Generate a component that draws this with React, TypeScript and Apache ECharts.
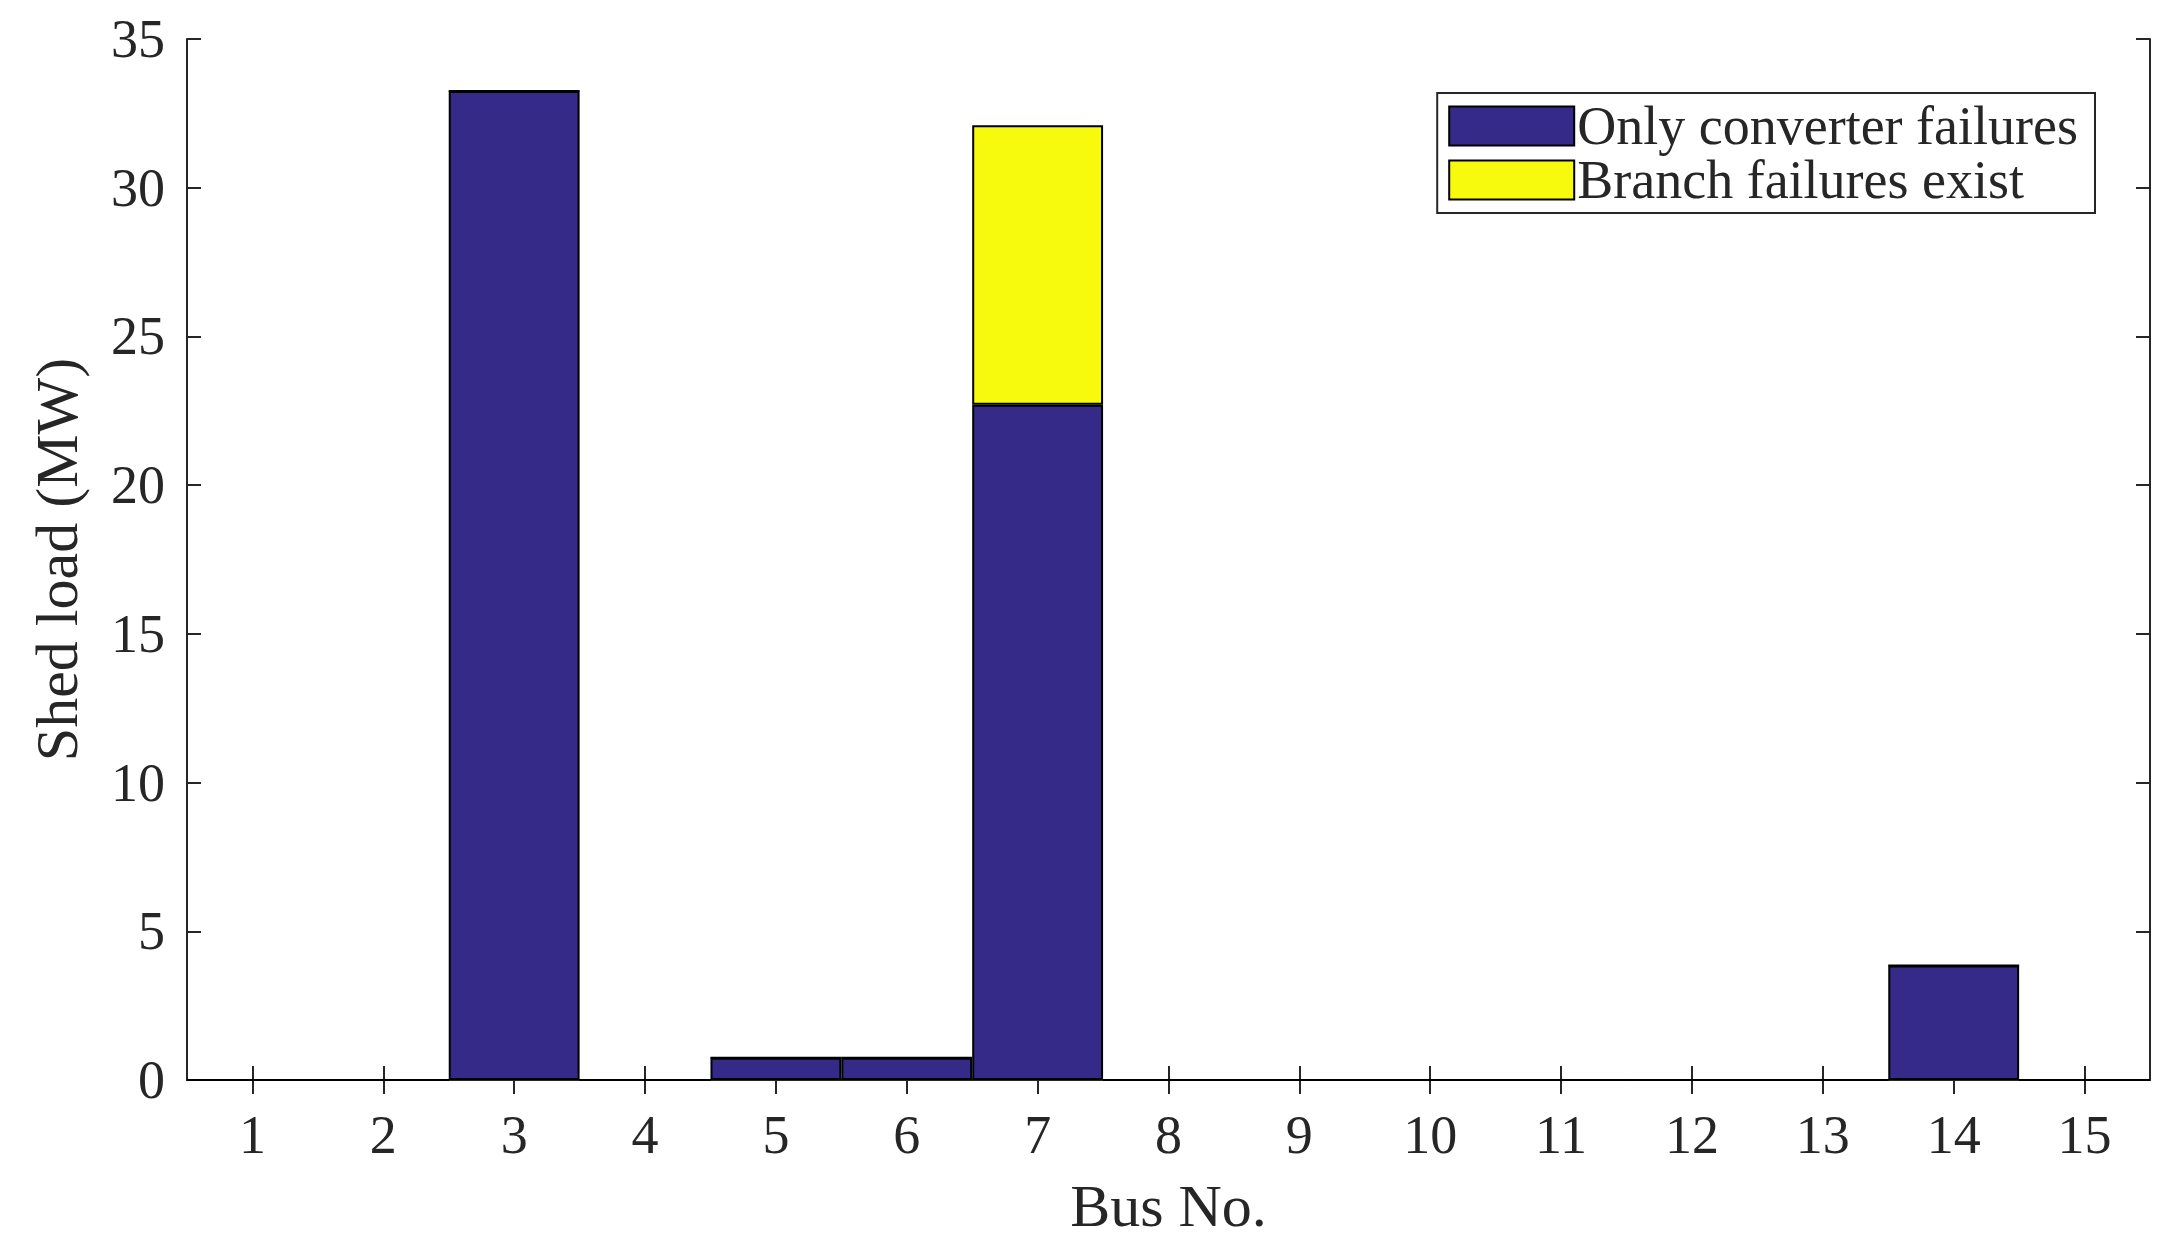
import React, { useEffect, useRef } from "react";
import * as echarts from "echarts";

const buses = ["1", "2", "3", "4", "5", "6", "7", "8", "9", "10", "11", "12", "13", "14", "15"];
const onlyConverter = [0, 0, 33.25, 0, 0.75, 0.75, 22.7, 0, 0, 0, 0, 0, 0, 3.85, 0];
const branchExist = [0, 0, 0, 0, 0, 0, 9.4, 0, 0, 0, 0, 0, 0, 0, 0];
const seriesNames = ["Only converter failures", "Branch failures exist"];
const yMin = 0;
const yMax = 35;
const yInterval = 5;

const FONT = "Liberation Serif";
const TXT = "#262626";

export default function App() {
  const ref = useRef<HTMLDivElement>(null);
  useEffect(() => {
    if (!ref.current) return;
    const chart = echarts.init(ref.current, undefined, { renderer: "svg" });
    const axisLine = { show: true, lineStyle: { color: TXT, width: 2 } };
    const tick = { show: true, inside: true, length: 14, lineStyle: { color: TXT, width: 2 } };
    chart.setOption({
      animation: false,
      backgroundColor: "#ffffff",
      grid: { left: 187, right: 30, top: 39, bottom: 177, containLabel: false },
      legend: {
        orient: "vertical",
        right: 85,
        top: 93,
        backgroundColor: "#ffffff",
        borderColor: TXT,
        borderWidth: 2,
        padding: [6, 17, 6, 11],
        itemGap: 0,
        itemWidth: 125,
        itemHeight: 39,
        itemStyle: { borderColor: "#000", borderWidth: 2 },
        icon: "rect",
        textStyle: { fontFamily: FONT, fontSize: 54, color: TXT, lineHeight: 52, padding: [0, 0, 0, -2] },
        data: seriesNames,
      },
      xAxis: [
        {
          type: "category",
          data: buses,
          position: "bottom",
          boundaryGap: true,
          axisLine,
          axisTick: { ...tick, alignWithLabel: true },
          axisLabel: { fontFamily: FONT, fontSize: 54, color: TXT, margin: 28 },
          name: "Bus No.",
          nameLocation: "middle",
          nameGap: 96,
          nameTextStyle: { fontFamily: FONT, fontSize: 60, color: TXT },
          splitLine: { show: false },
        },
        {
          type: "category",
          data: buses,
          position: "top",
          boundaryGap: true,
          axisLine,
          axisTick: { ...tick, alignWithLabel: true },
          axisLabel: { show: false },
          splitLine: { show: false },
        },
      ],
      yAxis: [
        {
          type: "value",
          min: yMin,
          max: yMax,
          interval: yInterval,
          position: "left",
          axisLine,
          axisTick: tick,
          axisLabel: { fontFamily: FONT, fontSize: 54, color: TXT, margin: 22 },
          splitLine: { show: false },
          name: "Shed load (MW)",
          nameLocation: "middle",
          nameGap: 100,
          nameTextStyle: { fontFamily: FONT, fontSize: 60, color: TXT },
        },
        {
          type: "value",
          min: yMin,
          max: yMax,
          interval: yInterval,
          position: "right",
          axisLine,
          axisTick: tick,
          axisLabel: { show: false },
          splitLine: { show: false },
        },
      ],
      series: [
        {
          name: seriesNames[0],
          type: "bar",
          stack: "total",
          data: onlyConverter,
          barWidth: "100%",
          itemStyle: { color: "#352a87", borderColor: "#000", borderWidth: 2 },
        },
        {
          name: seriesNames[1],
          type: "bar",
          stack: "total",
          data: branchExist,
          barWidth: "100%",
          itemStyle: { color: "#f8fa0d", borderColor: "#000", borderWidth: 2 },
        },
      ],
    });
    return () => chart.dispose();
  }, []);
  return (
    <div
      ref={ref}
      style={{ position: "fixed", left: 0, top: 0, width: 2180, height: 1257, background: "#fff" }}
    />
  );
}
